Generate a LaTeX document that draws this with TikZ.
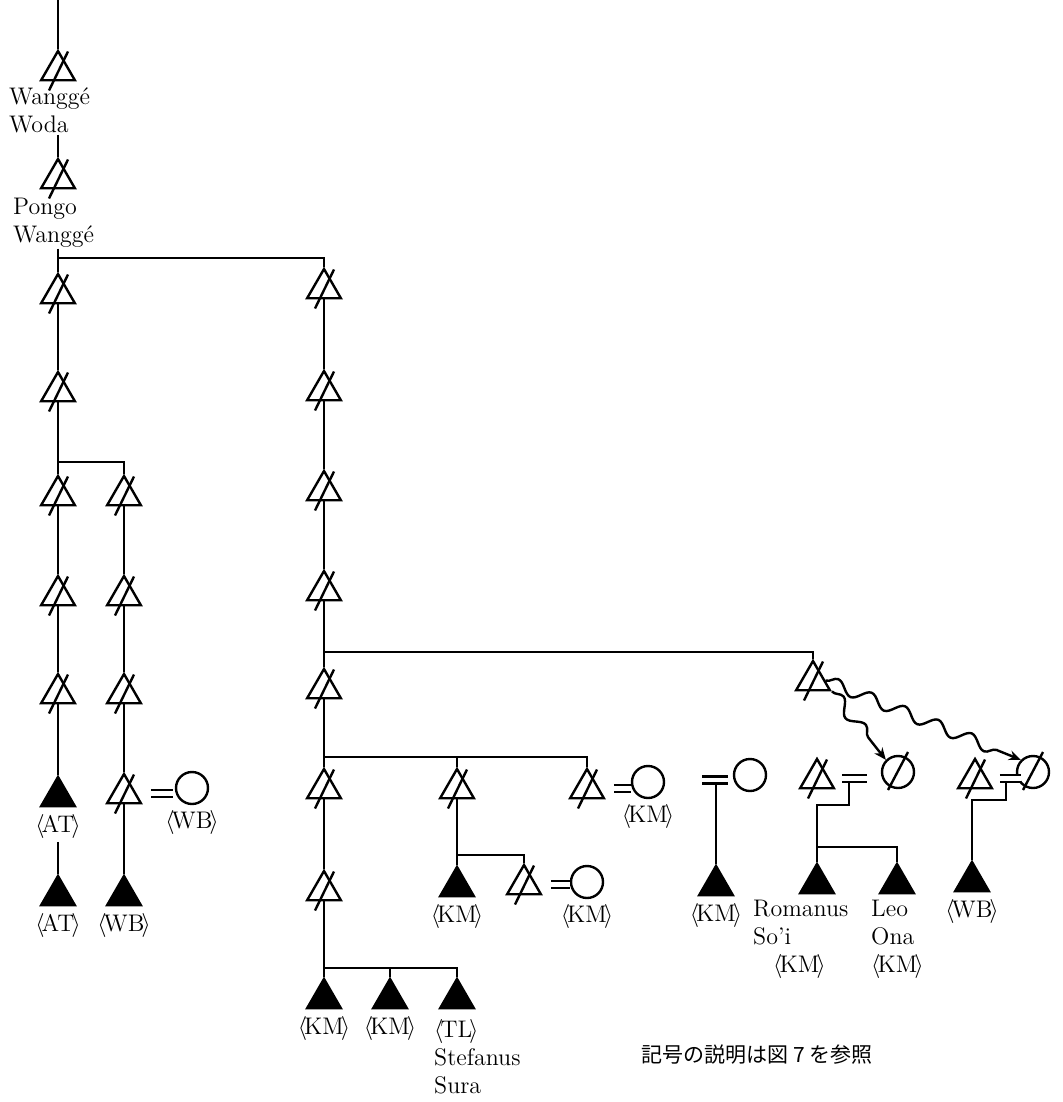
\documentclass[tikz,border=0pt]{standalone}
\usepackage{fontspec}
\newfontfamily\jpfont{Noto Sans CJK JP}
\usepackage{tikz}
\usetikzlibrary{arrows.meta,positioning,shapes.geometric,decorations.pathmorphing}
\newcommand{\clan}[1]{$\langle$\kern-1.5pt#1\kern-1.5pt$\rangle$}

\begin{document}
\begin{tikzpicture}[x=0.5pt,y=-0.5pt,line width=1.2pt,
  font=\fontsize{12}{14}\selectfont,>={Stealth[length=6pt,width=5pt]},
  dman/.style={draw,regular polygon,regular polygon sides=3,minimum size=19.5pt,inner sep=0pt},
  lman/.style={dman,fill=black},
  fem/.style={draw,circle,minimum size=16pt,inner sep=0pt},
  marry/.style={double,double distance=2.4pt},
  wavy/.style={->,decorate,decoration={snake,amplitude=3pt,segment length=18pt,post length=7pt}},
  tag/.style={inner sep=1pt},
  who/.style={align=left,inner sep=0pt,anchor=north west}]
  \useasboundingbox (0,0) rectangle (1063,1102);
  % ancestors
  \coordinate (top) at (58,0);
  \node[dman] (ww) at (58,70.5) {};
  \node[who] (nww) at (8,87) {Wanggé\\Woda};
  \node[dman] (pw) at (58,178.5) {};
  \node[who] (npw) at (12,197) {Pongo\\Wanggé};
  \coordinate (js) at (58,258);
  % left lines
  \foreach \n/\y in {a1/293.5,a2/391.5,a3/495.5,a4/595.5,a5/693.5}
    \node[dman] (\n) at (58,\y) {};
  \coordinate (ja) at (58,462);
  \node[lman] (af1) at (58,796.5) {};
  \node[tag,below=2pt of af1] (naf1) {\clan{AT}};
  \node[lman] (af2) at (58,895.5) {};
  \node[tag,below=2pt of af2] (naf2) {\clan{AT}};
  \foreach \n/\y in {b1/495.5,b2/595.5,b3/693.5,b4/793.5}
    \node[dman] (\n) at (124,\y) {};
  \node[fem] (bw) at (192,788) {};
  \node[tag,below=1pt of bw] (nbw) {\clan{WB}};
  \node[lman] (bf) at (124,895.5) {};
  \node[tag,below=2pt of bf] (nbf) {\clan{WB}};
  % main line
  \foreach \n/\y in {m1/288.5,m2/390.5,m3/490.5,m4/590.5,m5/688.5,m6/788.5,m7/890.5}
    \node[dman] (\n) at (324,\y) {};
  \coordinate (jm1) at (324,652);
  \coordinate (jm2) at (324,757);
  \coordinate (jm3) at (324,968);
  \foreach \n/\x in {mf1/324,mf2/390,mf3/457}
    \node[lman] (\n) at (\x,998.5) {};
  \node[tag,below=2pt of mf1] (nmf1) {\clan{KM}};
  \node[tag,below=2pt of mf2] (nmf2) {\clan{KM}};
  \node[who] (nmf3) at (433,1018) {\clan{TL}\\Stefanus\\Sura};
  % middle branch
  \node[dman] (k1) at (457,788.5) {};
  \node[dman] (s1) at (587,788.5) {};
  \node[fem] (sw) at (648,782) {};
  \node[tag,below=1pt of sw] (nsw) {\clan{KM}};
  \coordinate (jk) at (457,855);
  \node[lman] (kf) at (457,886.5) {};
  \node[tag,below=2pt of kf] (nkf) {\clan{KM}};
  \node[dman] (k2) at (524,884.5) {};
  \node[fem] (kw) at (587,882) {};
  \node[tag,below=1pt of kw] (nkw) {\clan{KM}};
  % right branch
  \node[dman] (r1) at (813,680.5) {};
  \coordinate (ze) at (702,780);
  \node[fem] (zw) at (750,775) {};
  \coordinate (zq) at (716,784);
  \node[lman] (zf) at (716,885.5) {};
  \node[tag,below=2pt of zf] (nzf) {\clan{KM}};
  \node[dman] (ro) at (817,778.5) {};
  \node[fem] (rc) at (898,772) {};
  \coordinate (roq) at (849,780.5);
  \coordinate (rok) at (817,805);
  \coordinate (jr) at (817,847);
  \node[lman] (rf) at (817,883.5) {};
  \node[lman] (lf) at (897,883.5) {};
  \node[who] (nrf) at (752,899) {Romanus\\So'i\\\hspace*{10pt}\clan{KM}};
  \node[who] (nlf) at (870,899) {Leo\\Ona\\\clan{KM}};
  \node[dman] (wb) at (975,778.5) {};
  \node[fem] (wc) at (1033,772) {};
  \coordinate (wbq) at (1006,780.5);
  \coordinate (wbk) at (972,800);
  \node[lman] (wf) at (972,881.5) {};
  \node[tag,below=2pt of wf] (nwf) {\clan{WB}};
  \node[font=\jpfont\fontsize{10.5}{12}\selectfont] (note) at (757,1055) {記号の説明は図 7 を参照};
  % lines of descent
  \draw (top) -- (ww.north);
  \draw (nww.south -| ww) -- (pw.north);
  \draw (npw.south -| pw) -- (a1.north);
  \draw (js) -| (m1.north);
  \draw (ja) -| (b1.north);
  \foreach \u/\v in {a1/a2,a2/a3,a3/a4,a4/a5,a5/af1,b1/b2,b2/b3,b3/b4,b4/bf,
      m1/m2,m2/m3,m3/m4,m4/m5,m5/m6,m6/m7,m7/mf1,k1/kf}
    \draw (\u.south) -- (\v.north);
  \draw (naf1) -- (af2.north);
  \draw (jm1) -| (r1.north);
  \draw (jm2) -| (s1.north);
  \draw (jm2 -| k1) -- (k1.north);
  \draw (jk) -| (k2.north);
  \draw (jm3) -| (mf3.north);
  \draw (jm3 -| mf2) -- (mf2.north);
  \draw (zq) -- (zf.north);
  \draw (roq) |- (rok) -- (rf.north);
  \draw (jr) -| (lf.north);
  \draw (wbq) |- (wbk) -- (wf.north);
  % marriages
  \draw[marry] ([shift={(4pt,5.5pt)}]b4.corner 3) -- ++(22,0);
  \draw[marry] ([shift={(4pt,5.5pt)}]s1.corner 3) -- ++(17,0);
  \draw[marry] ([shift={(4pt,5.5pt)}]k2.corner 3) -- ++(19,0);
  \draw[marry] (ze) -- ++(26,0);
  \draw[marry] ([shift={(3pt,5.5pt)}]ro.corner 3) -- ++(25,0);
  \draw[marry] ([shift={(3pt,5.5pt)}]wb.corner 3) -- ++(21,0);
  \draw[wavy] (r1.east) -- (wc.north west);
  \draw[wavy] (r1.corner 3) -- (rc.north west);
  % slashes
  \foreach \n in {ww,pw,a1,a2,a3,a4,a5,b1,b2,b3,b4,m1,m2,m3,m4,m5,m6,m7,r1,k1,k2,s1,ro,wb}
    \draw (\n.center) +(-9,20) -- +(10,-19);
  \foreach \n in {rc,wc}
    \draw (\n.center) +(-10,18) -- +(10,-20);
\end{tikzpicture}
\end{document}
